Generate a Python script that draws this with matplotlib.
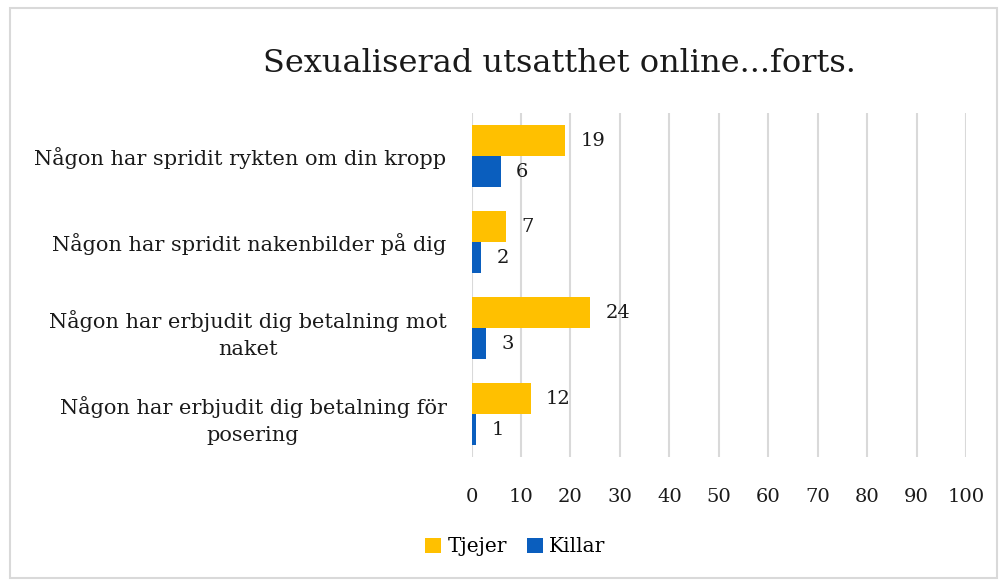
import numpy as np
import matplotlib.pyplot as plt
from matplotlib.patches import Rectangle

# Data
categories = ["Någon har spridit rykten om din kropp",
              "Någon har spridit nakenbilder på dig",
              "Någon har erbjudit dig betalning mot\nnaket",
              "Någon har erbjudit dig betalning för\nposering"]
tjejer = [19, 7, 24, 12]
killar = [6, 2, 3, 1]
series_names = ["Tjejer", "Killar"]
xticks = list(range(0, 101, 10))

gold = "#FFC000"
blue = "#0A5EBE"
grid = "#D9D9D9"
txt = "#1a1a1a"

plt.rcParams['font.family'] = ['DejaVu Serif']

fig = plt.figure(figsize=(9.99, 5.8), dpi=100)
ax = fig.add_axes([0.472, 0.212, 0.495, 0.593])

y = np.arange(len(categories))
h = 0.36
b1 = ax.barh(y - h / 2, tjejer, height=h, color=gold, label=series_names[0], zorder=3)
b2 = ax.barh(y + h / 2, killar, height=h, color=blue, label=series_names[1], zorder=3)

for bars, vals in ((b1, tjejer), (b2, killar)):
    for bar, v in zip(bars, vals):
        ax.annotate(str(v), (bar.get_width(), bar.get_y() + bar.get_height() / 2),
                    xytext=(15, 0), textcoords="offset pixels",
                    va="center", ha="left", fontsize=14, color=txt)

ax.set_xlim(0, 100)
ax.set_ylim(len(categories) - 0.5, -0.5)
ax.set_xticks(xticks)
ax.set_yticks(y)
ax.set_yticklabels(categories, fontsize=15, color=txt, multialignment="center",
                   linespacing=1.55)
ax.tick_params(axis="x", labelsize=14, colors=txt, length=0, pad=22)
ax.tick_params(axis="y", length=0, pad=18)
ax.xaxis.grid(True, color=grid, linewidth=1.5, zorder=0)
for s in ax.spines.values():
    s.set_visible(False)

fig.suptitle("Sexualiserad utsatthet online...forts.", x=0.56, y=0.918,
             fontsize=23, color=txt)

fig.legend(handles=[b1, b2], loc="center", bbox_to_anchor=(0.516, 0.057), ncol=2,
           frameon=False, fontsize=14.5, handlelength=0.8, handleheight=0.8,
           handletextpad=0.3, columnspacing=1.0)

fig.patches.append(Rectangle((10 / 999, 2 / 580), 987 / 999, 570 / 580,
                             transform=fig.transFigure, fill=False,
                             edgecolor="#D9D9D9", linewidth=1.5))

fig.savefig("out.png", dpi=100)
